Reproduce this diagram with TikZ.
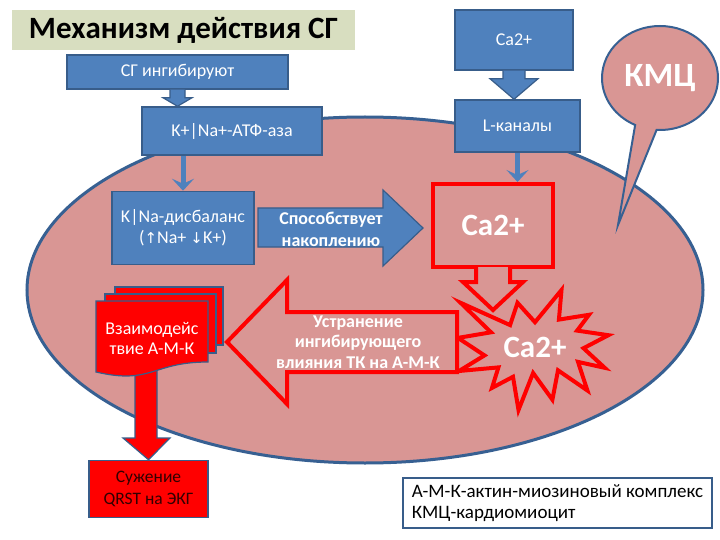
\documentclass[tikz,border=0pt]{standalone}
\usepackage{fontspec}
\setmainfont{Carlito}
\newfontfamily\arrowfont{DejaVu Sans}
\usetikzlibrary{shapes.geometric,shapes.callouts,positioning,arrows.meta,calc}
\definecolor{boxblue}{RGB}{79,129,189}
\definecolor{boxline}{RGB}{56,93,138}
\definecolor{cellpink}{RGB}{217,150,148}
\definecolor{cellline}{RGB}{55,96,146}
\definecolor{titlegray}{RGB}{216,222,192}
\definecolor{alarmred}{RGB}{255,0,0}
\definecolor{darktext}{RGB}{50,0,0}

\tikzset{
  bluebox/.style={draw=boxline, line width=1.5, fill=boxblue, text=white, align=center,
    inner sep=0pt, font=\fontsize{18}{21}\selectfont},
  blockblue/.style={draw=boxline, line width=1.2, fill=boxblue},
  pipe/.style={draw=boxblue, line width=5, -{Stealth[length=12,width=22,inset=5]}},
  redline/.style={draw=alarmred, line width=4, fill=cellpink, line join=miter},
  bigtext/.style={text=white, font=\bfseries\fontsize{31}{36}\selectfont},
  boldlabel/.style={text=white, align=center, font=\bfseries\fontsize{18}{20.5}\selectfont},
  doc/.style={draw=boxline, line width=1.2, fill=alarmred},
}

\begin{document}
\begin{tikzpicture}[x=1pt, y=-1pt]
\fill[white] (0,0) rectangle (720,540);
\useasboundingbox (0,0) rectangle (720,540);

% cell
\node[ellipse, draw=cellline, line width=3, fill=cellpink, minimum width=676, minimum height=346] (cell) at (365,290) {};

% title
\node[fill=titlegray, minimum width=343, minimum height=40, inner sep=0pt,
  font=\bfseries\fontsize{31}{36}\selectfont] (title) at (183.5,30) {Механизм действия СГ};

% blue boxes
\node[bluebox, minimum width=221, minimum height=34] (sg) at (177.5,72) {СГ ингибируют};
\node[bluebox, minimum width=180, minimum height=48] (atp) at (232,131) {K+|Na+-АТФ-аза};
\node[bluebox, minimum width=118, minimum height=60] (ca) at (514,40) {Ca2+};
\node[bluebox, minimum width=125, minimum height=52] (lch) at (517.5,126) {L-каналы};
\node[bluebox, minimum width=142, minimum height=73] (kna) at (183,228) {K|Na-дисбаланс\\({\arrowfont\fontsize{15}{20}\selectfont ↑}Na+ {\arrowfont\fontsize{15}{20}\selectfont ↓}K+)};

% block arrows between blue boxes
\draw[blockblue] ($(sg.south)+(-7.5,0)$) -- ++(0,8) -- ++(-7,0) -- (sg.south |- atp.north)
  -- ($(sg.south)+(14.5,8)$) -- ++(-7,0) -- ++(0,-8);
\draw[blockblue] ($(ca.south)+(-11,0)$) -- ++(0,8) -- ++(-13,0) -- (ca.south |- lch.north)
  -- ($(ca.south)+(24,8)$) -- ++(-13,0) -- ++(0,-8);
\draw[pipe] (kna.north |- atp.south) -- (kna.north);

% accumulation arrow
\draw[blockblue] (258,208) -- (383,208) -- (383,190) -- (423,228) -- (383,266) -- (383,247) -- (258,247) -- cycle;
\node[boldlabel, font=\bfseries\fontsize{18}{22}\selectfont] (accum) at (331,229) {Способствует\\накоплению};

% Ca2+ inside the cell
\draw[redline] (535,322.2) -- (561.5,290) -- (558.9,319.6) -- (589,314.8) -- (577.1,330.6)
  -- (608.4,335.2) -- (583.5,348.2) -- (604.7,367.8) -- (578,361.9) -- (587.4,390.5)
  -- (558,370.3) -- (552.4,399.7) -- (533.1,373) -- (518.5,410) -- (513,376.8)
  -- (492,387.9) -- (498.4,367.4) -- (459,371) -- (484.5,355.4) -- (458,337.9)
  -- (491,332.3) -- (460.6,302.8) -- (510.1,325.1) -- (517.5,302.8) -- cycle;
\node[bigtext] (castar) at (535,347) {Ca2+};

\node[redline, minimum width=120, minimum height=83, inner sep=0pt] (cabox) at (493,225.5) {};
\draw[redline] ($(cabox.south)+(-17,-2)$) -- ++(0,15) -- ++(-13,0) -- ($(cabox.south)+(0,41)$)
  -- ($(cabox.south)+(30,13)$) -- ++(-13,0) -- ++(0,-15);
\node[bigtext] (carel) at (cabox.center) {Ca2+};
\draw[pipe] (lch.south) -- (lch.south |- cabox.north);

% elimination arrow
\draw[redline] (227,342) -- (287,280) -- (287,312) -- (457,312) -- (457,372) -- (287,372) -- (287,404) -- cycle;
\node[boldlabel] (elim) at (358,342) {Устранение\\ингибирующего\\влияния ТК на А-М-К};

% A-M-K and QRST
\node[draw=boxline, line width=1.5, fill=alarmred, text=darktext, align=center, inner sep=0pt,
  minimum width=119, minimum height=57, font=\fontsize{17.5}{22}\selectfont] (qrst) at (148.5,489) {Сужение\\QRST на ЭКГ};
\draw[doc] (135,360) -- (135,438) -- (123,438) -- (qrst.north) -- (170,438) -- (157,438) -- (157,360);
\draw[doc] (115,287) -- (223,287) -- (223,345) -- (115,345) -- cycle;
\draw[doc] (105,294) -- (216,294) -- (216,353) -- (105,353) -- cycle;
\draw[doc] (96,301) -- (208,301) -- (208,362) .. controls (152,362) and (152,385) .. (96,372) -- cycle;
\node[text=white, align=center, font=\fontsize{18}{20}\selectfont] (amk) at (152,338) {Взаимодейс\\твие А-М-К};

% KMC bubble
\node[ellipse callout, draw=cellline, line width=2, fill=cellpink, minimum width=116, minimum height=104,
  callout absolute pointer={(618,225)}, callout pointer arc=22, text=white,
  font=\bfseries\fontsize{34}{40}\selectfont] (kmc) at (660,78) {КМЦ};

% legend
\node[draw=boxline, line width=1.5, fill=white, minimum width=309, minimum height=50, inner sep=0pt,
  align=left, font=\fontsize{19}{21}\selectfont] (legend) at (557.5,503) {А-М-К-актин-миозиновый комплекс\\КМЦ-кардиомиоцит};
\end{tikzpicture}
\end{document}
